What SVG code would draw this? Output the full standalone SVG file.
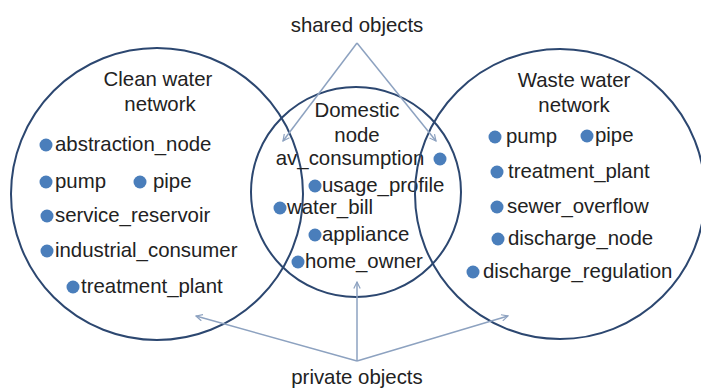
<svg xmlns="http://www.w3.org/2000/svg" width="701" height="388" viewBox="0 0 701 388">
<defs>
<style>
text{font-family:"Liberation Sans",Arial,sans-serif;font-size:20.4px;fill:#222222}
.c{text-anchor:middle}
.ring{fill:none;stroke:#2c4770;stroke-width:2}
.dot{fill:#4a7ebb}
.arr{fill:none;stroke:#8da2c0;stroke-width:1.5;marker-end:url(#ah)}
</style>
<marker id="ah" viewBox="0 0 10 10" refX="9" refY="5" markerWidth="8" markerHeight="8" orient="auto" markerUnits="userSpaceOnUse">
<path d="M1,1 L9,5 L1,9" fill="none" stroke="#8da2c0" stroke-width="1.5"/>
</marker>
</defs>
<rect width="701" height="388" fill="#ffffff"/>
<g id="clean-water-network">
<circle class="ring" cx="157" cy="194" r="146"/>
<text class="c" x="158" y="86">Clean water</text>
<text class="c" x="160" y="111">network</text>
<circle class="dot" cx="46" cy="145" r="6.5"/><text x="55" y="151">abstraction_node</text>
<circle class="dot" cx="46" cy="182" r="6.5"/><text x="55" y="188">pump</text>
<circle class="dot" cx="140" cy="182" r="6.5"/><text x="153" y="188">pipe</text>
<circle class="dot" cx="47" cy="216" r="6.5"/><text x="55" y="222">service_reservoir</text>
<circle class="dot" cx="47" cy="251" r="6.5"/><text x="55" y="257">industrial_consumer</text>
<circle class="dot" cx="73" cy="287" r="6.5"/><text x="81" y="293">treatment_plant</text>
</g>
<g id="domestic-node">
<circle class="ring" cx="356" cy="192" r="105"/>
<text class="c" x="357" y="117">Domestic</text>
<text class="c" x="357" y="142">node</text>
<text class="c" x="350" y="165">av_consumption</text>
<circle class="dot" cx="440" cy="159" r="6.5"/>
<circle class="dot" cx="315" cy="186" r="6.5"/><text x="322" y="192">usage_profile</text>
<circle class="dot" cx="280" cy="208" r="6.5"/><text x="287" y="214">water_bill</text>
<circle class="dot" cx="315" cy="235" r="6.5"/><text x="322" y="241">appliance</text>
<circle class="dot" cx="298" cy="262" r="6.5"/><text x="305" y="268">home_owner</text>
</g>
<g id="waste-water-network">
<circle class="ring" cx="560" cy="194" r="145"/>
<text class="c" x="574" y="87">Waste water</text>
<text class="c" x="574" y="112">network</text>
<circle class="dot" cx="495" cy="137" r="6.5"/><text x="506" y="143">pump</text>
<circle class="dot" cx="587" cy="136" r="6.5"/><text x="595" y="142">pipe</text>
<circle class="dot" cx="497" cy="172" r="6.5"/><text x="508" y="178">treatment_plant</text>
<circle class="dot" cx="497" cy="207" r="6.5"/><text x="507" y="213">sewer_overflow</text>
<circle class="dot" cx="498" cy="239" r="6.5"/><text x="508" y="245">discharge_node</text>
<circle class="dot" cx="473" cy="272" r="6.5"/><text x="483" y="278">discharge_regulation</text>
</g>
<g id="shared-objects">
<text class="c" x="357" y="32">shared objects</text>
</g>
<g id="private-objects">
<text class="c" x="357" y="384">private objects</text>
</g>
<g id="connectors">
<line class="arr" x1="357" y1="43" x2="283" y2="141"/>
<line class="arr" x1="357" y1="43" x2="436" y2="141"/>
<line class="arr" x1="357" y1="361" x2="357" y2="282"/>
<line class="arr" x1="357" y1="361" x2="196" y2="316"/>
<line class="arr" x1="357" y1="361" x2="508" y2="316"/>
</g>
</svg>
